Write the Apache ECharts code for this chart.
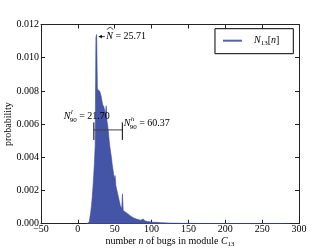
<!DOCTYPE html>
<html><head><meta charset="utf-8">
<script src="https://cdn.jsdelivr.net/npm/echarts@6/dist/echarts.min.js"></script>
<style>html,body{margin:0;padding:0;background:#fff}#c{width:332px;height:249px}</style>
</head><body><div id="c"></div>
<script>
// number of bugs n (bin centres)
const binN = [12,13,14,15,16,17,18,19,20,21,22,23,24,25,26,27,28,29,30,31,32,33,34,35,36,37,38,39,40,41,42,43,44,45,46,47,48,49,50,51,52,53,54,55,56,57,58,59,60,61,62,63,64,65,66,67,68,69,70,71,72,73,74,75,76,77,78,79,80,81,82,83,84,85,86,87,88,89,90,91,92,93,94,95,96,97,98,99,100,105,110,115,120,125,130,140,150,160,180,200,230,260,287];
// probability
const binP = [0,0,0.00003,0.0001,0.0002,0.0004,0.0007,0.0011,0.0016,0.0022,0.0029,0.0037,0.0047,0.0112,0.0114,0.0081,0.0082,0.0080,0.0081,0.0079,0.0077,0.0078,0.0072,0.0073,0.0070,0.0071,0.0066,0.0071,0.0062,0.0059,0.0055,0.0050,0.0046,0.0043,0.0040,0.0036,0.0033,0.0030,0.0027,0.0029,0.0023,0.0021,0.0019,0.0017,0.0015,0.0013,0.0011,0.0010,0.0009,0.0018,0.0008,0.0008,0.0007,0.0007,0.0006,0.0006,0.0005,0.0005,0.0005,0.00045,0.0004,0.0004,0.00038,0.00035,0.00033,0.0003,0.0003,0.00028,0.00027,0.00025,0.00024,0.00023,0.00022,0.00021,0.0002,0.0002,0.00028,0.00018,0.00017,0.00016,0.00015,0.00014,0.00013,0.00012,0.00012,0.00011,0.0001,0.0001,0.00009,0.00008,0.00006,0.00005,0.00004,0.00003,0.00003,0.00002,0.00002,0.00001,0.00001,0.00001,0.000005,0.000005,0];
const xTicks = [-50,0,50,100,150,200,250,300];
const yTicks = [0,0.002,0.004,0.006,0.008,0.010,0.012];
const modeN = 25.71, modeP = 0.0113;
const lowN = 21.70, highN = 60.37, bracketP = 0.00565;
const lowLabel = '21.70', highLabel = '60.37', modeLabel = '25.71';

const FONT = '"Liberation Serif","DejaVu Serif",serif';
const AX = '#222';
const BLUE = '#4454a6';
const chart = echarts.init(document.getElementById('c'), null, {renderer:'canvas'});

function xAxisDef(top){
  return {type:'value', position: top?'top':'bottom', min:xTicks[0], max:xTicks[xTicks.length-1], interval:xTicks[1]-xTicks[0],
    axisLine:{show:true, onZero:false, lineStyle:{color:AX,width:1}},
    axisTick:{show:true, inside:true, length:4, lineStyle:{color:AX}},
    axisLabel:{show:!top, fontFamily:FONT, fontSize:10, color:'#000', margin:1,
      formatter:v=>String(v).replace('-','\u2212')},
    splitLine:{show:false},
    name: top? '' : '{r|number }{i|n}{r| of bugs in module }{i|C}{s|13}',
    nameLocation:'middle', nameGap:12, nameMoveOverlap:false,
    nameTextStyle:{rich:{
      r:{fontFamily:FONT,fontSize:10,color:'#000',lineHeight:12},
      i:{fontFamily:FONT,fontSize:10,fontStyle:'italic',color:'#000',lineHeight:12},
      s:{fontFamily:FONT,fontSize:7,color:'#000',lineHeight:7,verticalAlign:'bottom'}}}
  };
}
function yAxisDef(right){
  return {type:'value', position: right?'right':'left', min:yTicks[0], max:yTicks[yTicks.length-1], interval:yTicks[1]-yTicks[0],
    axisLine:{show:true, onZero:false, lineStyle:{color:AX,width:1}},
    axisTick:{show:true, inside:true, length:4, lineStyle:{color:AX}},
    axisLabel:{show:!right, fontFamily:FONT, fontSize:10, color:'#000', margin:2,
      formatter:v=>v.toFixed(3)},
    splitLine:{show:false},
    name: right? '' : 'probability', nameLocation:'middle', nameGap:28, nameMoveOverlap:false,
    nameTextStyle:{fontFamily:FONT,fontSize:10,color:'#000'}
  };
}

const option = {
  animation:false,
  grid:{left:41,right:33,top:24.5,bottom:25.3,containLabel:false,outerBoundsMode:'none'},
  xAxis:[xAxisDef(false), xAxisDef(true)],
  yAxis:[yAxisDef(false), yAxisDef(true)],
  legend:{
    data:['N13[n]'], right:38.7, top:28.7, orient:'horizontal',
    padding:[7,14,7,8], borderColor:'#000', borderWidth:1, borderRadius:0,
    icon:'rect', itemWidth:19, itemHeight:2, backgroundColor:'#fff',
    itemStyle:{color:'#5562b0'},
    formatter:()=>'{i|N}{s|13}{r|[}{i|n}{r|]}',
    textStyle:{padding:[0,0,0,7], rich:{
      r:{fontFamily:FONT,fontSize:10,color:'#000',lineHeight:12},
      i:{fontFamily:FONT,fontSize:10,fontStyle:'italic',color:'#000',lineHeight:12},
      s:{fontFamily:FONT,fontSize:7,color:'#000',lineHeight:7,verticalAlign:'bottom'}}}
  },
  series:[{
    name:'N13[n]', type:'line', step:'middle', symbol:'none', xAxisIndex:0, yAxisIndex:0,
    data: binN.map((n,i)=>[n, binP[i]]),
    lineStyle:{width:0.6, color:'#3d4ea3'},
    areaStyle:{color:BLUE, opacity:1}
  }]
};
chart.setOption(option);

// annotations
const cv = document.createElement('canvas').getContext('2d');
function tw(s, size, italic){ cv.font=(italic?'italic ':'')+size+'px '+FONT; return cv.measureText(s).width; }
const P = (x,y)=>chart.convertToPixel({xAxisIndex:0,yAxisIndex:0},[x,y]);
const g = [];
function txt(x,y,s,size,italic){
  g.push({type:'text', x:x, y:y, z:100, style:{text:s, fontFamily:FONT, fontSize:size, fontStyle:italic?'italic':'normal', fill:'#000', textVerticalAlign:'middle', verticalAlign:'middle', textAlign:'left', align:'left'}});
}
function ln(x1,y1,x2,y2,c,w){
  g.push({type:'line', z:100, shape:{x1,y1,x2,y2}, style:{stroke:c||'#000', lineWidth:w||1}});
}
// mode arrow
const tip = P(modeN, modeP);
const ay = tip[1]+0.5;
const ax0 = tip[0]+2, ax1 = tip[0]+8;
ln(ax0, ay, ax1, ay, '#000', 0.8);
g.push({type:'polygon', z:100, shape:{points:[[ax0,ay],[ax0+3,ay-1.8],[ax0+3,ay+1.8]]}, style:{fill:'#000'}});
let tx = ax1+1.5;
txt(tx, ay, 'N', 10, true);
const wN = tw('N',10,true);
g.push({type:'polyline', z:100, shape:{points:[[tx+0.5,ay-7],[tx+wN/2+0.5,ay-9.5],[tx+wN+0.5,ay-7]]}, style:{stroke:'#000', lineWidth:0.7, fill:null}});
txt(tx+wN, ay, ' = '+modeLabel, 10, false);

// bracket
const pl = P(lowN, bracketP), ph = P(highN, bracketP);
ln(pl[0], pl[1], ph[0], ph[1], '#444', 1);
ln(pl[0], pl[1]-7.5, pl[0], pl[1]+10, '#000', 1);
ln(ph[0], ph[1]-7.5, ph[0], ph[1]+10, '#000', 1);

function nLabel(x0, cy, sup, val){
  txt(x0, cy, 'N', 10, true);
  const w = tw('N',10,true);
  txt(x0+w+0.3, cy-4, sup, 7, true);
  txt(x0+w-0.8, cy+4.5, '90', 7, false);
  const w90 = tw('90',7,false);
  txt(x0+w-0.8+w90, cy, ' = '+val, 10, false);
}
const wl = tw('N',10,true)+tw('90',7,false)-0.8+tw(' = '+lowLabel,10,false);
nLabel(pl[0]+16-wl, pl[1]-14, 'l', lowLabel);
nLabel(ph[0]+1.5, ph[1]-7, 'h', highLabel);

chart.setOption({graphic:g});
</script></body></html>
